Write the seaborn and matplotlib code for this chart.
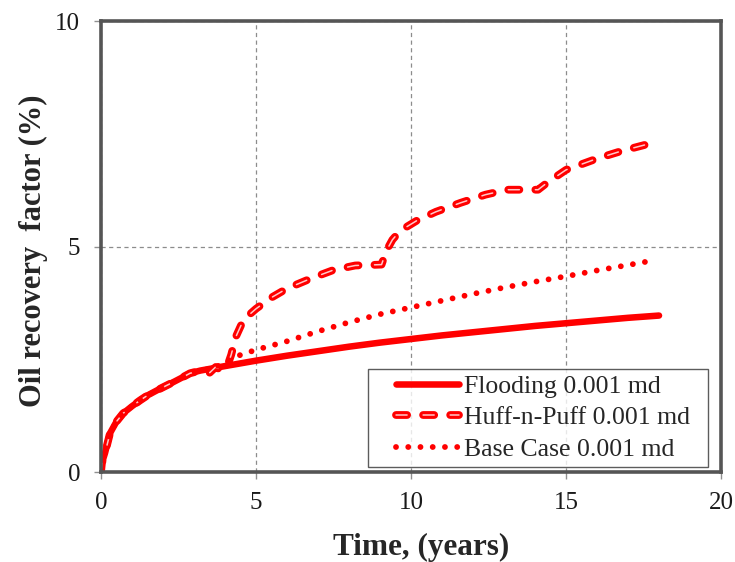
import matplotlib
matplotlib.use("Agg")
import matplotlib.pyplot as plt
import matplotlib.patheffects as pe
from matplotlib.legend_handler import HandlerLine2D
import numpy as np
import pandas as pd
import seaborn as sns

# Early-time recovery shared by all three cases (years, %)
early_t = [0, 0.03, 0.13, 0.29, 0.5, 0.71, 1.0, 1.26, 1.5, 1.8, 2.0, 2.32, 2.6, 2.87, 3.2]
early_rf = [0, 0.2, 0.42, 0.86, 1.12, 1.3, 1.46, 1.59, 1.7, 1.81, 1.88, 1.99, 2.09, 2.19, 2.25]

flood_t = [3.6, 4, 5, 6, 7, 8, 9, 10, 11, 12, 13, 14, 15, 16, 17, 18]
flood_rf = [2.3, 2.35, 2.47, 2.58, 2.68, 2.78, 2.87, 2.95, 3.03, 3.1, 3.17, 3.24, 3.3, 3.36, 3.42, 3.47]

base_t = [3.6, 4, 4.25, 5, 6, 7, 8, 9, 10, 11, 12, 13, 14, 15, 16, 17, 17.8]
base_rf = [2.3, 2.42, 2.54, 2.71, 2.9, 3.12, 3.32, 3.5, 3.65, 3.8, 3.95, 4.09, 4.22, 4.34, 4.47, 4.59, 4.69]

huff_t = [3.3, 3.5, 3.7, 3.9, 4.1, 4.2, 4.35, 4.6, 5, 5.5, 6, 6.8, 7.5, 8.2, 9.05, 9.2, 9.4,
          9.65, 10.2, 10.8, 11.6, 12.4, 13.1, 14.1, 14.4, 15, 16, 16.8, 17.8]
huff_rf = [2.24, 2.2, 2.33, 2.25, 2.4, 2.6, 3.0, 3.38, 3.62, 3.87, 4.07, 4.3, 4.48, 4.58, 4.6, 4.9, 5.15,
           5.35, 5.58, 5.77, 5.97, 6.15, 6.26, 6.26, 6.42, 6.7, 6.95, 7.12, 7.3]

labels = ["Flooding 0.001 md", "Huff-n-Puff 0.001 md", "Base Case 0.001 md"]
x_ticks = [0, 5, 10, 15, 20]
y_ticks = [0, 5, 10]

frames = []
for name, t, rf in [(labels[0], flood_t, flood_rf), (labels[1], huff_t, huff_rf), (labels[2], base_t, base_rf)]:
    frames.append(pd.DataFrame({"Time": early_t + t, "RF": early_rf + rf, "Case": name}))
df = pd.concat(frames, ignore_index=True)

sns.set_style("white")
plt.rcParams["font.family"] = ["Liberation Serif", "DejaVu Serif"]
plt.rcParams["lines.scale_dashes"] = False

fig = plt.figure(figsize=(7.35, 5.62), dpi=100)
ax = fig.add_axes([0.1374, 0.160, 0.8436, 0.8026])

red = "#ff0000"

# Flooding: thick solid
sub = df[df.Case == labels[0]]
sns.lineplot(data=sub, x="Time", y="RF", ax=ax, color=red, lw=4.7, label=labels[0],
             sort=False, estimator=None)
ln_flood = ax.lines[-1]
ln_flood.set_solid_capstyle("round")
ln_flood.set_solid_joinstyle("round")

# Huff-n-Puff: hollow-looking dashes
sub = df[df.Case == labels[1]]
sns.lineplot(data=sub, x="Time", y="RF", ax=ax, color="#ffc8c8", lw=1.1, label=labels[1],
             sort=False, estimator=None)
ln_huff = ax.lines[-1]
ln_huff.set_dashes((8, 11.5))
ln_huff.set_dash_capstyle("round")
ln_huff.set_path_effects([pe.Stroke(linewidth=5.6, foreground=red), pe.Normal()])

# Base case: round dots
sub = df[df.Case == labels[2]]
sns.lineplot(data=sub, x="Time", y="RF", ax=ax, color=red, lw=4.2, label=labels[2],
             sort=False, estimator=None)
ln_base = ax.lines[-1]
ln_base.set_dashes((0.01, 8.8))
ln_base.set_dash_capstyle("round")

ax.set_xlim(0, 20)
ax.set_ylim(0, 10)
ax.set_xticks(x_ticks)
ax.set_yticks(y_ticks)
ax.grid(True, color="#8c8c8c", linestyle=(0, (3, 2.5)), linewidth=0.9)
ax.set_axisbelow(True)

for s in ax.spines.values():
    s.set_visible(True)
    s.set_color("#555555")
    s.set_linewidth(2.6)

ax.tick_params(axis="both", direction="out", length=5, width=1, color="#909090",
               labelsize=18, labelcolor="#1a1a1a")
ax.tick_params(axis="x", pad=9, bottom=True)
ax.tick_params(axis="y", pad=10, left=True)

ax.set_xlabel("Time, (years)", fontsize=22.5, fontweight="bold", labelpad=14)
ax.set_ylabel("Oil recovery  factor (%)", fontsize=22, fontweight="bold", labelpad=5)
ax.xaxis.label.set_x(0.516)
ax.yaxis.label.set_y(0.49)

handler = HandlerLine2D(xpad=0.85)
leg = ax.legend(handles=[ln_flood, ln_huff, ln_base], labels=labels,
                loc="lower left", bbox_to_anchor=(0.4306, 0.011, 0.548, 0.2),
                mode="expand", borderaxespad=0,
                fontsize=18.5, frameon=True, fancybox=False, handlelength=3.3,
                handletextpad=0.2, labelspacing=0.32, borderpad=0.25,
                handler_map={ln_flood: handler, ln_huff: handler, ln_base: handler})
leg.get_frame().set_edgecolor("#333333")
leg.get_frame().set_linewidth(1.0)

fig.savefig("out.png", dpi=100)
